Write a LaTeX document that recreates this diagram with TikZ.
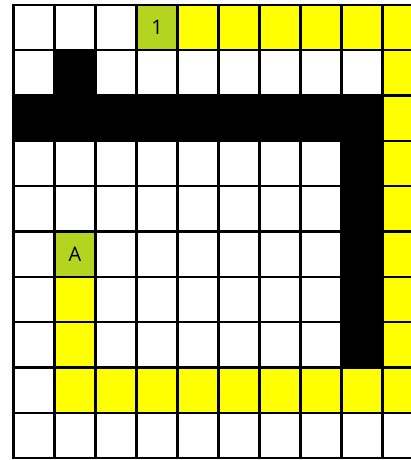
\documentclass[tikz,border=0pt]{standalone}
\usepackage{fontspec}
\setmainfont{Open Sans}
\definecolor{cellgreen}{RGB}{181,212,32}
\definecolor{cellyellow}{RGB}{255,255,0}
\newcommand\gcell[3]{\fill[#3] ({13.5+41*#1},{5+45.3*#2}) rectangle ++(41,45.3);}
\begin{document}
\begin{tikzpicture}[x=1pt,y=-1pt,
  gridline/.style={line width=2.3pt,black,line cap=rect},
  celllabel/.style={font=\fontsize{20}{24}\selectfont,text=black,inner sep=0pt}]
\useasboundingbox (0,0) rectangle (411,460);
\clip (0,0) rectangle (411,460);
\fill[white] (0,0) rectangle (411,460);
% yellow path
\foreach \c in {4,...,9} {\gcell{\c}{0}{cellyellow}}
\foreach \r in {1,...,8} {\gcell{9}{\r}{cellyellow}}
\foreach \c in {1,...,8} {\gcell{\c}{8}{cellyellow}}
\foreach \r in {6,7} {\gcell{1}{\r}{cellyellow}}
% walls
\gcell{1}{1}{black}
\foreach \c in {0,...,8} {\gcell{\c}{2}{black}}
\foreach \r in {3,...,7} {\gcell{8}{\r}{black}}
% start / end
\gcell{3}{0}{cellgreen}
\gcell{1}{5}{cellgreen}
% grid
\foreach \i in {0,...,10} {\draw[gridline] ({13.5+41*\i},5) -- ({13.5+41*\i},458);}
\foreach \j in {0,...,10} {\draw[gridline] (13.5,{5+45.3*\j}) -- (423.5,{5+45.3*\j});}
% labels
\node[celllabel] (one) at ({13.5+41*3.5},{5+45.3*0.5}) {1};
\node[celllabel] (a) at ({13.5+41*1.5},{5+45.3*5.5}) {A};
\end{tikzpicture}
\end{document}
